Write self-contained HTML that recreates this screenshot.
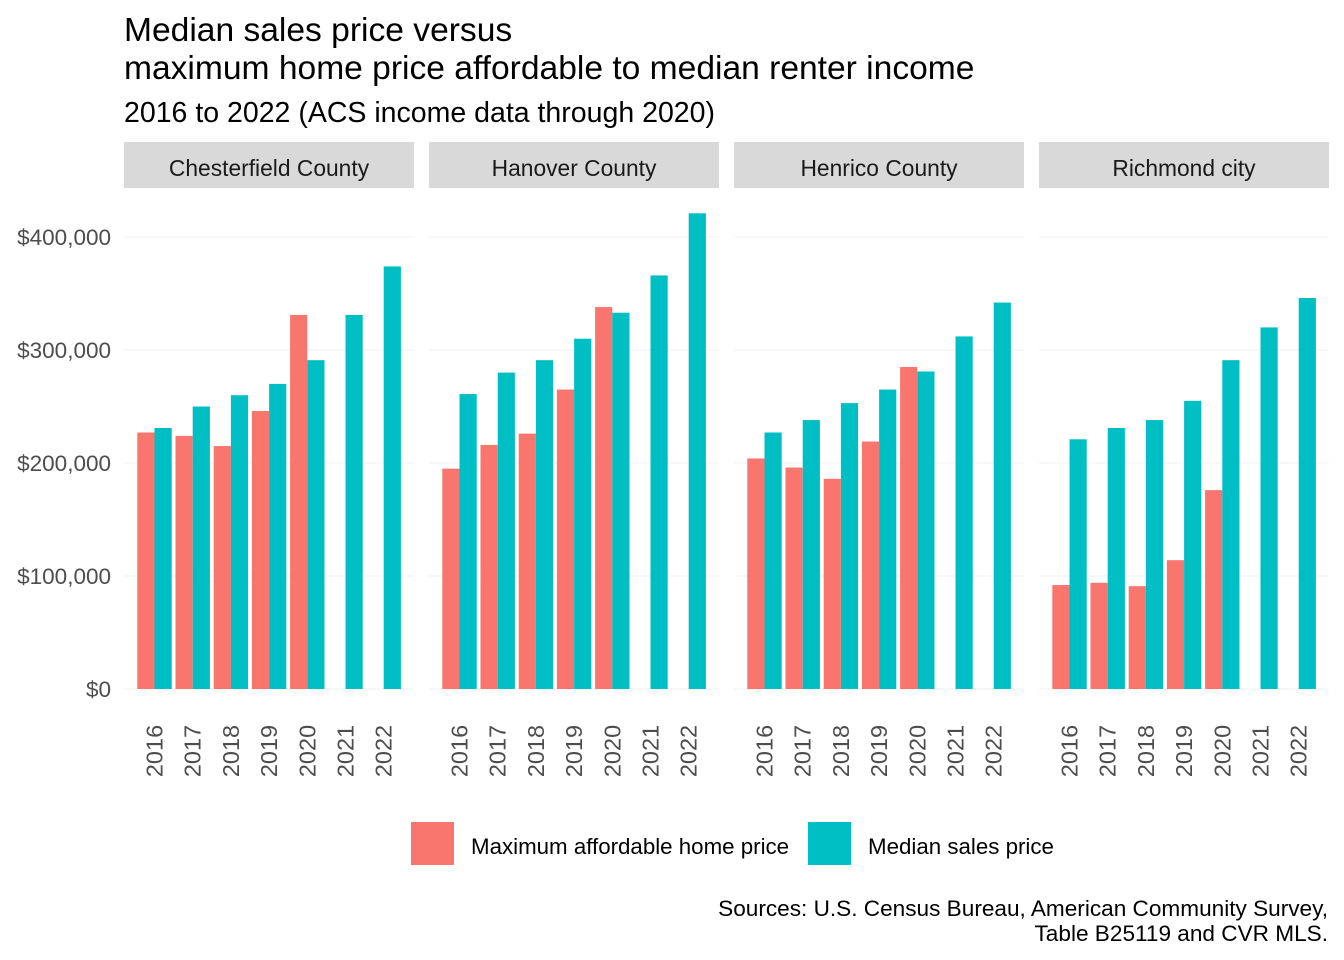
<!DOCTYPE html>
<html><head><meta charset="utf-8"><style>
body{margin:0;background:#fff}
svg{display:block;font-family:"Liberation Sans",Arial,sans-serif}
</style></head><body>
<svg id="chart" width="1344" height="960" viewBox="0 0 1344 960">
<text x="124" y="41" font-size="33.6" fill="#000">Median sales price versus</text>
<text x="124" y="79" font-size="33.6" fill="#000">maximum home price affordable to median renter income</text>
<text x="124" y="122" font-size="28.5" fill="#000">2016 to 2022 (ACS income data through 2020)</text>
<g id="plot"></g>
<g>
<rect x="411" y="822" width="43" height="43" fill="#F8766D"/>
<text x="471" y="854" font-size="22.3" fill="#000">Maximum affordable home price</text>
<rect x="808" y="822" width="43" height="43" fill="#00BFC4"/>
<text x="868" y="854" font-size="22.3" fill="#000">Median sales price</text>
</g>
<text x="1328" y="916" font-size="22.6" text-anchor="end" fill="#000">Sources: U.S. Census Bureau, American Community Survey,</text>
<text x="1328" y="941" font-size="22.6" text-anchor="end" fill="#000">Table B25119 and CVR MLS.</text>
</svg>
<script>
const panels = ["Chesterfield County","Hanover County","Henrico County","Richmond city"];
const years = ["2016","2017","2018","2019","2020","2021","2022"];
const yTicks = [0,100000,200000,300000,400000];
const yTickLabels = ["$0","$100,000","$200,000","$300,000","$400,000"];
const affordable = [
 [227000,224000,215000,246000,331000,null,null],
 [195000,216000,226000,265000,338000,null,null],
 [204000,196000,186000,219000,285000,null,null],
 [92000,94000,91000,114000,176000,null,null]
];
const median = [
 [231000,250000,260000,270000,291000,331000,374000],
 [261000,280000,291000,310000,333000,366000,421000],
 [227000,238000,253000,265000,281000,312000,342000],
 [221000,231000,238000,255000,291000,320000,346000]
];
const NS="http://www.w3.org/2000/svg";
const g=document.getElementById('plot');
const y0=689, pxPer=113/100000;
const yScale=v=>y0-v*pxPer;
const panelX=i=>124+i*305, panelW=290;
const xScale=(p,j)=>panelX(p)+30.5+j*38.2;
const bw=17.2;
function el(tag,attrs){const e=document.createElementNS(NS,tag);for(const k in attrs)e.setAttribute(k,attrs[k]);g.appendChild(e);return e;}
yTicks.forEach((t,i)=>{
  const tx=el('text',{x:111,y:yScale(t)+8,'font-size':22.5,'text-anchor':'end',fill:'#4d4d4d'});
  tx.textContent=yTickLabels[i];
  
  
});
panels.forEach((name,p)=>{
  const px=panelX(p);
  yTicks.forEach(t=>{
    const l=el('line',{x1:px,x2:px+panelW,y1:yScale(t),y2:yScale(t),stroke:'#f2f2f2','stroke-width':1});
    
    
  });
  const s=el('rect',{x:px,y:142,width:panelW,height:46,fill:'#d9d9d9'});
  
  
  const st=el('text',{x:px+panelW/2,y:176,'font-size':22.8,'text-anchor':'middle',fill:'#1a1a1a'});
  st.textContent=name;
  
  
  years.forEach((yr,j)=>{
    const cx=xScale(p,j);
    const a=affordable[p][j];
    if(a!=null){
      const r=el('rect',{x:cx-bw,y:yScale(a),width:bw,height:y0-yScale(a),fill:'#F8766D'});
      
      
    }
    const m=median[p][j];
    if(m!=null){
      const r=el('rect',{x:cx,y:yScale(m),width:bw,height:y0-yScale(m),fill:'#00BFC4'});
      
      
    }
    const t=el('text',{x:cx+8,y:751,'font-size':23.5,'text-anchor':'middle',fill:'#4d4d4d',transform:`rotate(-90 ${cx+8} 751)`});
    t.textContent=yr;
    
    
  });
});
</script>
</body></html>
